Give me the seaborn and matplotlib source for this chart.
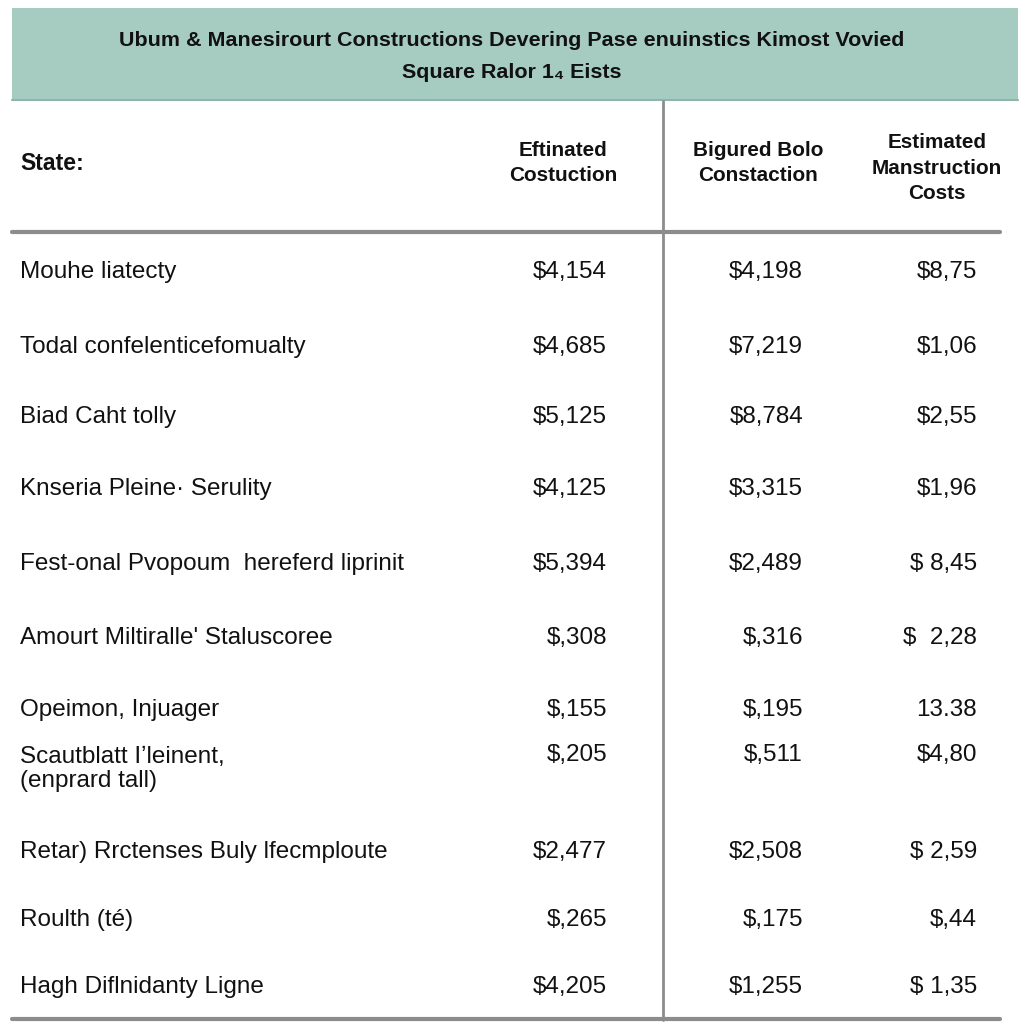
import matplotlib.pyplot as plt
import seaborn as sns
from matplotlib import font_manager

# ----------------------
# Table content
# ----------------------
title_lines = [
    "Ubum & Manesirourt Constructions Devering Pase enuinstics Kimost Vovied",
    "Square Ralor 1\u2084 Eists",
]
row_header = "State:"
col_headers = [
    "Eftinated\nCostuction",
    "Bigured Bolo\nConstaction",
    "Estimated\nManstruction\nCosts",
]
states = [
    "Mouhe liatecty",
    "Todal confelenticefomualty",
    "Biad Caht tolly",
    "Knseria Pleine\u00b7 Serulity",
    "Fest-onal Pvopoum  hereferd liprinit",
    "Amourt Miltiralle' Staluscoree",
    "Opeimon, Injuager",
    "Scautblatt I\u02bcleinent,\n(enprard tall)",
    "Retar) Rrctenses Buly lfecmploute",
    "Roulth (t\u00e9)",
    "Hagh Diflnidanty Ligne",
]
est_construction = ["$4,154", "$4,685", "$5,125", "$4,125", "$5,394", "$,308",
                    "$,155", "$,205", "$2,477", "$,265", "$4,205"]
figured_construction = ["$4,198", "$7,219", "$8,784", "$3,315", "$2,489", "$,316",
                        "$,195", "$,511", "$2,508", "$,175", "$1,255"]
est_manstruction = ["$8,75", "$1,06", "$2,55", "$1,96", "$ 8,45", "$  2,28",
                    "13.38", "$4,80", "$ 2,59", "$,44", "$ 1,35"]

# ----------------------
# Layout (pixel coordinates of the 1024 x 1024 canvas)
# ----------------------
row_y = [272, 347, 417, 489, 564, 638, 710, 769, 852, 920, 987]
col_right = [607, 803, 977]
head_x = [563, 758, 937]
head_y = [163, 163, 168]

sns.set_theme(style="white")
names = {f.name for f in font_manager.fontManager.ttflist}
if "Liberation Sans Narrow" in names:
    plt.rcParams["font.family"] = ["Liberation Sans Narrow", "DejaVu Sans"]
    scale = 1.0
else:
    plt.rcParams["font.family"] = ["Liberation Sans", "DejaVu Sans"]
    scale = 0.83

ink = "#111111"
banner = "#a6cbc0"
rule = "#8c8c8c"

fig = plt.figure(figsize=(10.24, 10.24), dpi=100)
ax = fig.add_axes([0, 0, 1, 1])
ax.set_xlim(0, 1024)
ax.set_ylim(1024, 0)
ax.axis("off")

# title banner
ax.add_patch(plt.Rectangle((12, 8), 1006, 92, facecolor=banner, edgecolor="none"))
ax.plot([12, 1018], [100, 100], color="#8fb5aa", lw=1.5)
for i, line in enumerate(title_lines):
    ax.text(512, 41 + 32 * i, line, ha="center", va="center",
            fontsize=18.6 * scale, fontweight="bold", color=ink)

# rules
ax.plot([663, 663], [101, 1020], color=rule, lw=2)
ax.plot([12, 1000], [232, 232], color=rule, lw=3)
ax.plot([12, 1000], [1019, 1019], color=rule, lw=3)

# headers
ax.text(20, 163, row_header, ha="left", va="center",
        fontsize=20 * scale, fontweight="bold", color=ink)
for x, y, h in zip(head_x, head_y, col_headers):
    ax.text(x, y, h, ha="center", va="center", fontsize=18 * scale,
            fontweight="bold", color=ink, linespacing=1.45)

# body rows
for y, name, a, b, c in zip(row_y, states, est_construction,
                            figured_construction, est_manstruction):
    ax.text(20, y, name, ha="left", va="center", fontsize=21 * scale,
            color=ink, linespacing=1.17)
    for x, v in zip(col_right, (a, b, c)):
        vy = y - 14 if "\n" in name else y
        ax.text(x, vy, v, ha="right", va="center", fontsize=21 * scale, color=ink)

fig.savefig("out.png", dpi=100)
